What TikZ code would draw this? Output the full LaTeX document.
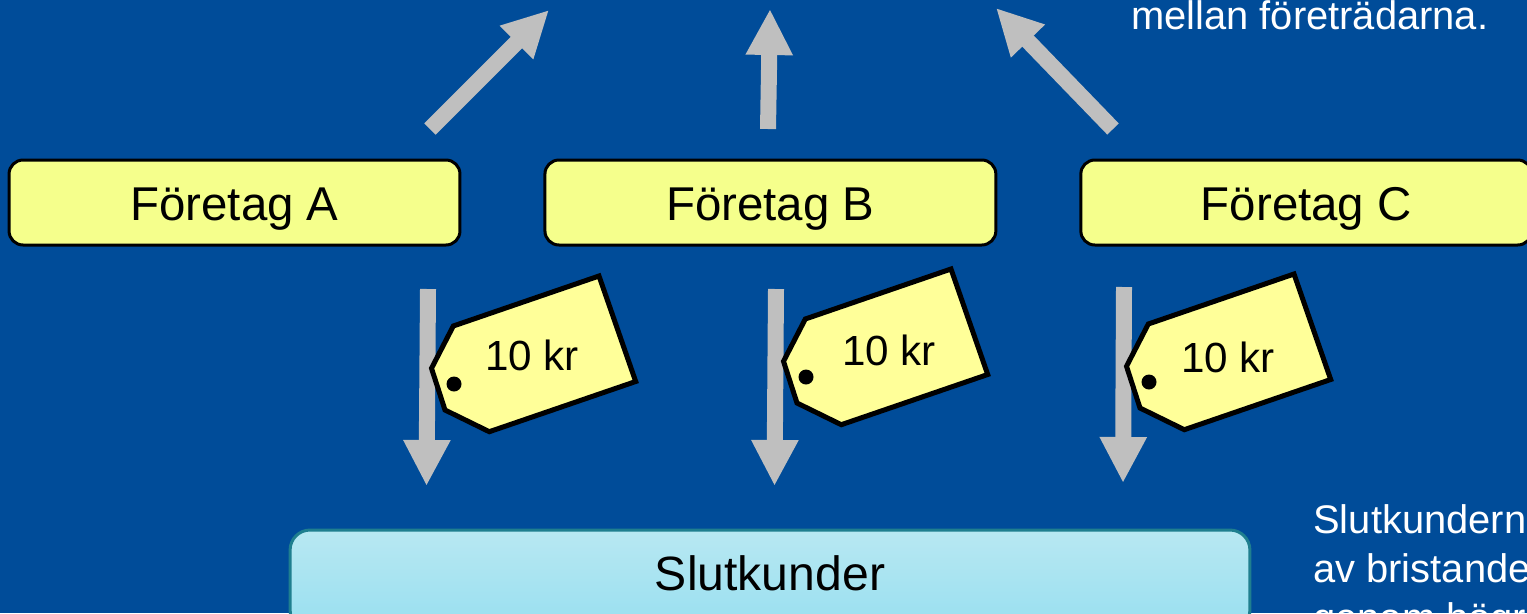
\documentclass[tikz,border=0pt]{standalone}
\usepackage{fontspec}
\setmainfont{Liberation Sans}
\usetikzlibrary{arrows.meta, positioning}

\definecolor{bgblue}{HTML}{004C99}
\definecolor{boxyellow}{HTML}{F5FF8C}
\definecolor{tagyellow}{HTML}{FFFF99}
\definecolor{arrowgray}{HTML}{BFBFBF}
\definecolor{custtop}{HTML}{B8E8F2}
\definecolor{custbottom}{HTML}{98DFF0}
\definecolor{custline}{HTML}{1F7F8F}

\tikzset{
    company/.style={draw=black, line width=0.06cm, fill=boxyellow, rounded corners=0.28cm,
        minimum width=9.02cm, minimum height=1.7cm, inner sep=0pt,
        text height=0.7cm, text depth=0pt,
        font=\fontsize{27}{32}\selectfont},
    customers/.style={draw=custline, line width=0.06cm, top color=custtop, bottom color=custbottom,
        rounded corners=0.4cm, minimum width=19.2cm, minimum height=2cm, inner sep=0pt},
    flow/.style={draw=arrowgray, line width=0.32cm, -{Triangle[length=0.92cm, width=0.88cm]}},
    price/.style={inner sep=0pt, font=\fontsize{24}{28}\selectfont},
    note/.style={inner sep=0pt, text=white, align=left, font=\fontsize{22.7}{27.9}\selectfont},
    pricetag/.pic={
        \filldraw[draw=black, line width=0.1cm, fill=tagyellow, miter limit=10]
            (145,-108) -- (181.7,-2.5) -- (35.3,47.7) -- (-9,26)
            -- (-22.5,-15.7) -- (-0.7,-58) -- cycle;
        \fill[black] (0,0) circle (0.15cm);
    }
}

\begin{document}
\begin{tikzpicture}[x=0.02cm, y=-0.02cm]
    \useasboundingbox (0,0) rectangle (1527,613);
    \fill[bgblue] (0,0) rectangle (1527,613);
    \clip (0,0) rectangle (1527,613);

    \node[company](companyA) at (234.5,202.5){Företag A};
    \node[company](companyB)[right=1.64cm of companyA]{Företag B};
    \node[company](companyC)[right=1.64cm of companyB]{Företag C};
    \node[customers](slutkunder) at (770,580){};
    \node[inner sep=0pt, font=\fontsize{27.4}{32}\selectfont](slutkunderText) at (770,573){Slutkunder};

    \coordinate (upAs) at (430,129);
    \coordinate (upAe) at (549,10);
    \coordinate (upBs) at (768,129);
    \coordinate (upBe) at (770,9);
    \coordinate (upCs) at (1113,129);
    \coordinate (upCe) at (996,8);
    \coordinate (downAs) at (428,289);
    \coordinate (downAe) at (426.5,486);
    \coordinate (downBs) at (776,289);
    \coordinate (downBe) at (774.5,486);
    \coordinate (downCs) at (1124,287);
    \coordinate (downCe) at (1123,483);

    \draw[flow] (upAs) -- (upAe);
    \draw[flow] (upBs) -- (upBe);
    \draw[flow] (upCs) -- (upCe);
    \draw[flow] (downAs) -- (downAe);
    \draw[flow] (downBs) -- (downBe);
    \draw[flow] (downCs) -- (downCe);

    \pic at (454,384) {pricetag};
    \pic at (806,377) {pricetag};
    \pic at (1149,382) {pricetag};
    \node[price](priceA) at (532,355){10 kr};
    \node[price](priceB) at (889,350){10 kr};
    \node[price](priceC) at (1228,357){10 kr};

    \node[note, anchor=base west](noteTop) at (1131,29){mellan företrädarna.};
    \node[note, anchor=north west](noteBottom) at (1313,504){Slutkundern\\av bristande\\genom högr};
\end{tikzpicture}
\end{document}
